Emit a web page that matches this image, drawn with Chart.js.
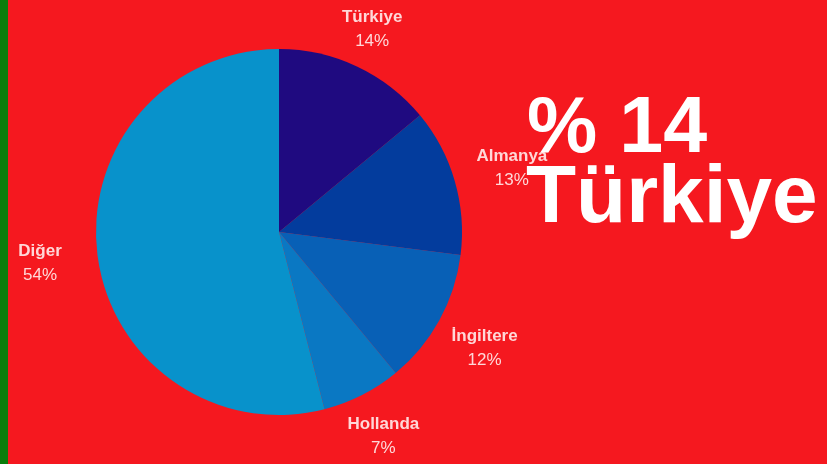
<!DOCTYPE html>
<html>
<head>
<meta charset="utf-8">
<script src="https://cdn.jsdelivr.net/npm/chart.js@4.4.0/dist/chart.umd.min.js"></script>
<style>
  html, body { margin: 0; padding: 0; background: #f5181f; }
  #wrap { width: 827px; height: 464px; position: relative; }
</style>
</head>
<body>
<div id="wrap"><canvas id="ulkePayi"></canvas></div>
<script>
const ulkeler = ['Türkiye', 'Almanya', 'İngiltere', 'Hollanda', 'Diğer'];
const paylar = [14, 13, 12, 7, 54];
const renkler = ['#1f0a80', '#033c9d', '#0860b6', '#0a78c3', '#0892cb'];

const toplam = paylar.reduce((a, b) => a + b, 0);
const yuzde = v => Math.round(v / toplam * 100);

// arka plan: kırmızı zemin + soldaki yeşil şerit
const zemin = {
    id: 'zemin',
    beforeDraw(chart) {
        const c = chart.ctx;
        c.save();
        c.fillStyle = '#f5181f';
        c.fillRect(0, 0, chart.width, chart.height);
        c.fillStyle = '#0a7d0c';
        c.fillRect(0, 0, 8, chart.height);
        c.restore();
    }
};

// dilim etiketleri (ad + yüzde), dilimin dışına
const etiketler = {
    id: 'etiketler',
    afterDatasetsDraw(chart, args, opts) {
        const c = chart.ctx;
        const meta = chart.getDatasetMeta(0);
        c.save();
        c.fillStyle = 'rgba(255,232,232,0.92)';
        c.textAlign = 'center';
        c.textBaseline = 'middle';
        meta.data.forEach((arc, i) => {
            const p = arc.getProps(['x', 'y', 'startAngle', 'endAngle', 'outerRadius'], true);
            const orta = (p.startAngle + p.endAngle) / 2;
            const dx = Math.cos(orta), dy = Math.sin(orta);
            const ust = ulkeler[i], alt = yuzde(paylar[i]) + '%';
            c.font = 'bold 17px "Liberation Sans", Arial, sans-serif';
            const w1 = c.measureText(ust).width;
            c.font = '17px "Liberation Sans", Arial, sans-serif';
            const w = Math.max(w1, c.measureText(alt).width);
            const h = 40;
            const kay = (opts.kaydir && opts.kaydir[i]) || [0, 0];
            const cx = p.x + dx * (p.outerRadius + 22) + dx * w / 2 + kay[0];
            const cy = p.y + dy * (p.outerRadius + 22) + dy * h / 2 + kay[1];
            c.font = 'bold 17px "Liberation Sans", Arial, sans-serif';
            c.fillText(ust, cx, cy - 12);
            c.font = '17px "Liberation Sans", Arial, sans-serif';
            c.fillText(alt, cx, cy + 12);
        });
        c.restore();
    }
};

// sağdaki büyük başlık
const manset = {
    id: 'manset',
    afterDraw(chart) {
        const c = chart.ctx;
        c.save();
        c.fillStyle = '#ffffff';
        c.textAlign = 'left';
        c.textBaseline = 'alphabetic';
        c.font = 'bold 79px "Liberation Sans", Arial, sans-serif';
        c.fillText('% ' + yuzde(paylar[0]), 527, 152);
        c.font = 'bold 82px "Liberation Sans", Arial, sans-serif';
        c.fillText(ulkeler[0], 526, 222);
        c.restore();
    }
};

new Chart(document.getElementById('ulkePayi'), {
    type: 'pie',
    data: {
        labels: ulkeler,
        datasets: [{
            data: paylar,
            backgroundColor: renkler,
            borderWidth: 0
        }]
    },
    options: {
        responsive: true,
        maintainAspectRatio: false,
        animation: false,
        layout: {
            padding: { top: 49, bottom: 49, left: 96, right: 365 }
        },
        plugins: {
            legend: { display: false },
            tooltip: { enabled: false },
            etiketler: {
                kaydir: [[-7, 1], [2, -1], [-3, 8], [-5, 4], [-14, 3]]
            }
        }
    },
    plugins: [zemin, etiketler, manset]
});
</script>
</body>
</html>
